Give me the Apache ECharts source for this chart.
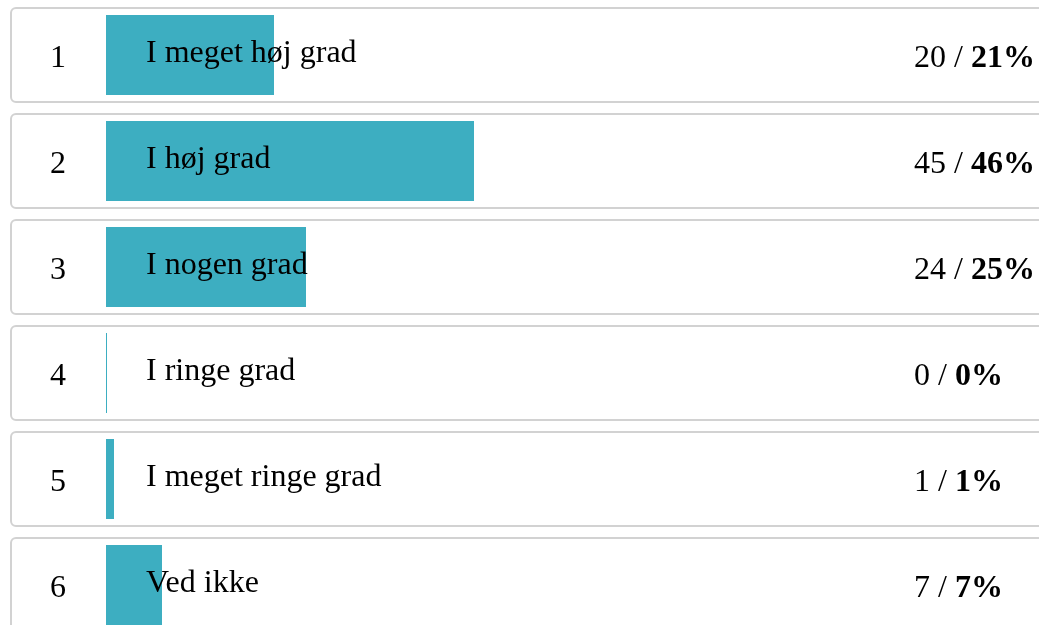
<!DOCTYPE html>
<html>
<head>
<meta charset="utf-8">
<script src="https://cdn.jsdelivr.net/npm/echarts@6/dist/echarts.min.js"></script>
<style>
html,body{margin:0;padding:0;background:#fff;}
#chart{width:1039px;height:625px;}
</style>
</head>
<body>
<div id="chart"></div>
<script>
var ranks = ['1', '2', '3', '4', '5', '6'];
var categories = ['I meget høj grad', 'I høj grad', 'I nogen grad', 'I ringe grad', 'I meget ringe grad', 'Ved ikke'];
var counts = [20, 45, 24, 0, 1, 7];
var percents = [21, 46, 25, 0, 1, 7];

var FONT = '"Liberation Serif", "Times New Roman", serif';
var chart = echarts.init(document.getElementById('chart'));

var idx = categories.map(function (c, i) { return [0, i]; });

chart.setOption({
  animation: false,
  backgroundColor: '#ffffff',
  grid: { left: 106, top: 2, width: 800, height: 636, outerBoundsMode: 'none', containLabel: false },
  xAxis: { type: 'value', min: 0, max: 100, show: false },
  yAxis: { type: 'category', data: categories, inverse: true, show: false },
  series: [
    {
      type: 'custom',
      z: 1,
      clip: false,
      silent: true,
      data: idx,
      renderItem: function (params, api) {
        var y = api.coord([0, api.value(1)])[1];
        return {
          type: 'rect',
          shape: { x: 11, y: y - 47, width: 1060, height: 94, r: 5 },
          style: { fill: '#ffffff', stroke: '#d2d2d2', lineWidth: 2 }
        };
      }
    },
    {
      type: 'bar',
      z: 2,
      data: percents,
      barWidth: 80,
      barMinHeight: 1,
      itemStyle: { color: '#3daec1' },
      silent: true
    },
    {
      type: 'custom',
      z: 3,
      clip: false,
      silent: true,
      data: idx,
      renderItem: function (params, api) {
        var i = api.value(1);
        var y = api.coord([0, i])[1];
        return {
          type: 'group',
          children: [
            {
              type: 'text',
              style: { x: 58, y: y + 4, text: ranks[i], font: '32px ' + FONT, fill: '#000', align: 'center', verticalAlign: 'middle' }
            },
            {
              type: 'text',
              style: { x: 146, y: y - 1, text: categories[i], font: '32px ' + FONT, fill: '#000', align: 'left', verticalAlign: 'middle' }
            },
            {
              type: 'text',
              style: {
                x: 914, y: y + 4,
                text: counts[i] + ' / {b|' + percents[i] + '%}',
                font: '32px ' + FONT, fill: '#000', align: 'left', verticalAlign: 'middle',
                rich: { b: { fontWeight: 'bold', fontSize: 32, fontFamily: FONT, fill: '#000' } }
              }
            }
          ]
        };
      }
    }
  ]
});
</script>
</body>
</html>
